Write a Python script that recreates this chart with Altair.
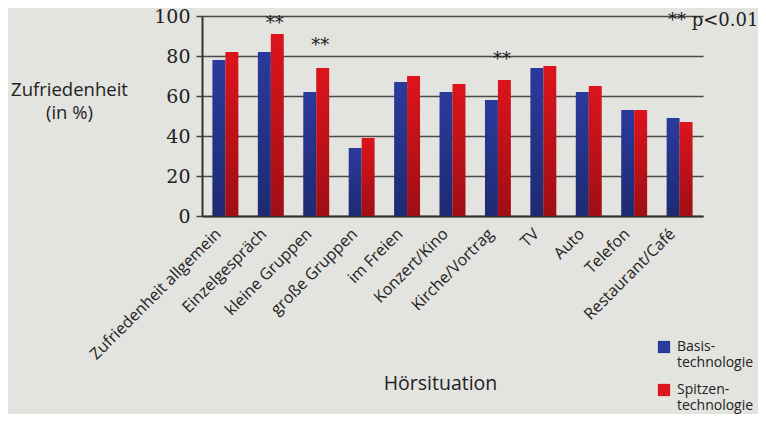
import altair as alt
import pandas as pd

categories = ["Zufriedenheit allgemein", "Einzelgespräch", "kleine Gruppen", "große Gruppen",
              "im Freien", "Konzert/Kino", "Kirche/Vortrag", "TV", "Auto", "Telefon",
              "Restaurant/Café"]
basis = [78, 82, 62, 34, 67, 62, 58, 74, 62, 53, 49]
spitzen = [82, 91, 74, 39, 70, 66, 68, 75, 65, 53, 47]
series_names = ["Basistechnologie", "Spitzentechnologie"]
series_colors = ["#2a3a9c", "#dc141c"]
star_cats = ["Einzelgespräch", "kleine Gruppen", "Kirche/Vortrag"]
star_pos = [96, 85, 78]
y_ticks = [0, 20, 40, 60, 80, 100]

rows = []
for c, b, s in zip(categories, basis, spitzen):
    rows.append({"cat": c, "series": series_names[0], "value": b})
    rows.append({"cat": c, "series": series_names[1], "value": s})
df = pd.DataFrame(rows)
stars = pd.DataFrame({"cat": star_cats, "pos": star_pos, "txt": ["**"] * len(star_cats)})

W, H = 501, 200

xscale = alt.Scale(domain=categories, paddingInner=0.43, paddingOuter=0.23)

x_axis = alt.Axis(
    title="Hörsituation", labelAngle=-45, labelAlign="right", labelBaseline="middle",
    labelFont="Open Sans", labelFontSize=16, labelColor="#222", labelPadding=15,
    labelOffset=-7, labelOverlap=False,
    ticks=False, domainColor="#333", domainWidth=2, grid=False,
    titleFont="Open Sans", titleFontSize=19.5, titleFontWeight="normal", titleColor="#222",
    titleX=238, titleY=167, titleAnchor="middle", titleBaseline="middle", labelLimit=300,
)
y_axis = alt.Axis(
    title=["Zufriedenheit", "(in %)"], values=y_ticks, tickCount=6, labelOverlap=False,
    titleAngle=0, titleX=-133, titleY=64, titleAlign="center", titleBaseline="top",
    titleFont="Open Sans", titleFontSize=18.5, titleFontWeight="normal", titleColor="#222",
    titleLineHeight=23,
    labelFont="DejaVu Serif", labelFontSize=19, labelColor="#222", labelPadding=6,
    tickColor="#444", tickSize=6, tickWidth=1.5,
    gridColor="#4a4a4a", gridWidth=1.4, domainColor="#333", domainWidth=2,
)

bars = alt.Chart(df).mark_bar(stroke=None).encode(
    x=alt.X("cat:N", scale=xscale, axis=x_axis, sort=categories),
    xOffset=alt.XOffset("series:N", scale=alt.Scale(domain=series_names, paddingInner=0)),
    y=alt.Y("value:Q", scale=alt.Scale(domain=[0, 100], nice=False), axis=y_axis),
    color=alt.Color("series:N", scale=alt.Scale(domain=series_names, range=series_colors),
                    legend=alt.Legend(
                        title=None, orient="none", legendX=455, legendY=324,
                        symbolType="square", symbolSize=150, symbolStrokeWidth=0,
                        labelFont="Open Sans", labelFontSize=14, labelColor="#222",
                        labelOffset=6, rowPadding=13, labelBaseline="middle",
                        labelExpr="datum.label == 'Basistechnologie' ? ['Basis-', 'technologie'] : ['Spitzen-', 'technologie']",
                    )),
)

shade = alt.Chart(df).mark_bar(
    fill=alt.Gradient(gradient="linear", x1=0, x2=0, y1=0, y2=1,
                      stops=[alt.GradientStop(color="rgba(0,0,0,0)", offset=0),
                             alt.GradientStop(color="rgba(0,0,0,0.28)", offset=1)]),
).encode(
    x=alt.X("cat:N", scale=xscale, sort=categories),
    xOffset=alt.XOffset("series:N", scale=alt.Scale(domain=series_names, paddingInner=0)),
    y=alt.Y("value:Q"),
)

star_text = alt.Chart(stars).mark_text(
    font="DejaVu Serif", fontSize=18, color="#222", baseline="middle", dx=4
).encode(
    x=alt.X("cat:N", scale=xscale, sort=categories),
    y=alt.Y("pos:Q"),
    text="txt:N",
)

note = alt.Chart(pd.DataFrame({"t": ["** p<0.01"]})).mark_text(
    font="DejaVu Serif", fontSize=18, color="#222", align="left", baseline="middle"
).encode(x=alt.value(466), y=alt.value(5), text="t:N")

chart = alt.layer(bars, shade, star_text, note).properties(
    width=W, height=H,
    autosize=alt.AutoSizeParams(type="none"),
    padding={"left": 194, "top": 8, "right": 55, "bottom": 198},
).configure(background="#e3e3e0").configure_view(stroke=None)

chart.save("out.html", embed_options={"renderer": "svg", "actions": False})
